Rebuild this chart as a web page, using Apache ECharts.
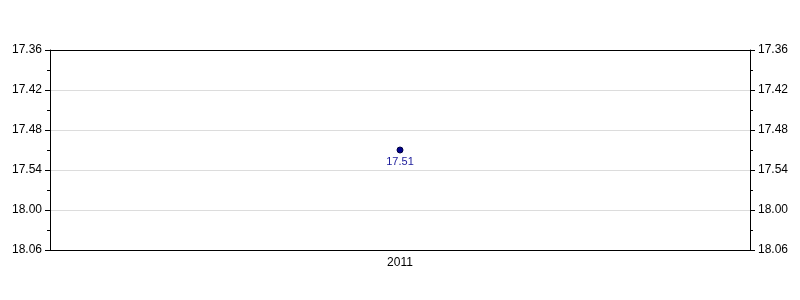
<!DOCTYPE html>
<html><head><meta charset="utf-8">
<script src="https://cdn.jsdelivr.net/npm/echarts@6/dist/echarts.min.js"></script>
<style>html,body{margin:0;padding:0;background:#fff}#c{width:800px;height:300px}</style>
</head><body><div id="c"></div>
<script>
const categories = ['2011'];
const values = [17.51];           // times written as minutes.seconds
const yTickLabels = ['17.36', '17.42', '17.48', '17.54', '18.00', '18.06'];

function toSec(v) { const s = String(typeof v === 'number' ? v.toFixed(2) : v); const p = s.split('.'); return parseInt(p[0]) * 60 + parseInt(p[1]); }
function fmt(sec) { const m = Math.floor(sec / 60), s = Math.round(sec - m * 60); return m + '.' + (s < 10 ? '0' : '') + s; }

const ySecs = yTickLabels.map(toSec);
const yMin = ySecs[0], yMax = ySecs[ySecs.length - 1], yInt = ySecs[1] - ySecs[0];
const font = 'Liberation Sans, Arial, sans-serif';

function yAxis(pos) {
  return {
    type: 'value', position: pos, inverse: true, min: yMin, max: yMax, interval: yInt,
    axisLine: { show: true, lineStyle: { color: '#000', width: 1 } },
    axisTick: { show: true, length: 5, lineStyle: { color: '#000' } },
    minorTick: { show: true, splitNumber: 2, length: 3, lineStyle: { color: '#000' } },
    splitLine: { show: pos === 'left', lineStyle: { color: '#dcdcdc', width: 1 } },
    axisLabel: { color: '#000', fontSize: 12, fontFamily: font, margin: 8, formatter: v => fmt(v) }
  };
}

const chart = echarts.init(document.getElementById('c'), null, { renderer: 'canvas' });
chart.setOption({
  animation: false,
  grid: { left: 50, right: 50, top: 50, bottom: 50 },
  xAxis: [{
    type: 'category', data: categories, boundaryGap: true, position: 'bottom',
    axisLine: { lineStyle: { color: '#000' } },
    axisTick: { alignWithLabel: true, length: 4, lineStyle: { color: '#000' } },
    axisLabel: { color: '#000', fontSize: 12, fontFamily: font, margin: 7 },
    splitLine: { show: false }
  }, {
    type: 'category', data: categories, boundaryGap: true, position: 'top',
    axisLine: { lineStyle: { color: '#000' } },
    axisTick: { show: false }, axisLabel: { show: false }, splitLine: { show: false }
  }],
  yAxis: [yAxis('left'), yAxis('right')],
  series: [{
    type: 'line', yAxisIndex: 0,
    data: values.map(toSec),
    symbol: 'circle', symbolSize: 6,
    itemStyle: { color: '#00008b', borderColor: '#000040', borderWidth: 1 },
    lineStyle: { color: '#00008b' },
    label: { show: true, position: 'bottom', distance: 3, color: '#1a1a9a', fontSize: 11, fontFamily: font, formatter: p => fmt(p.value) }
  }]
});
</script></body></html>
